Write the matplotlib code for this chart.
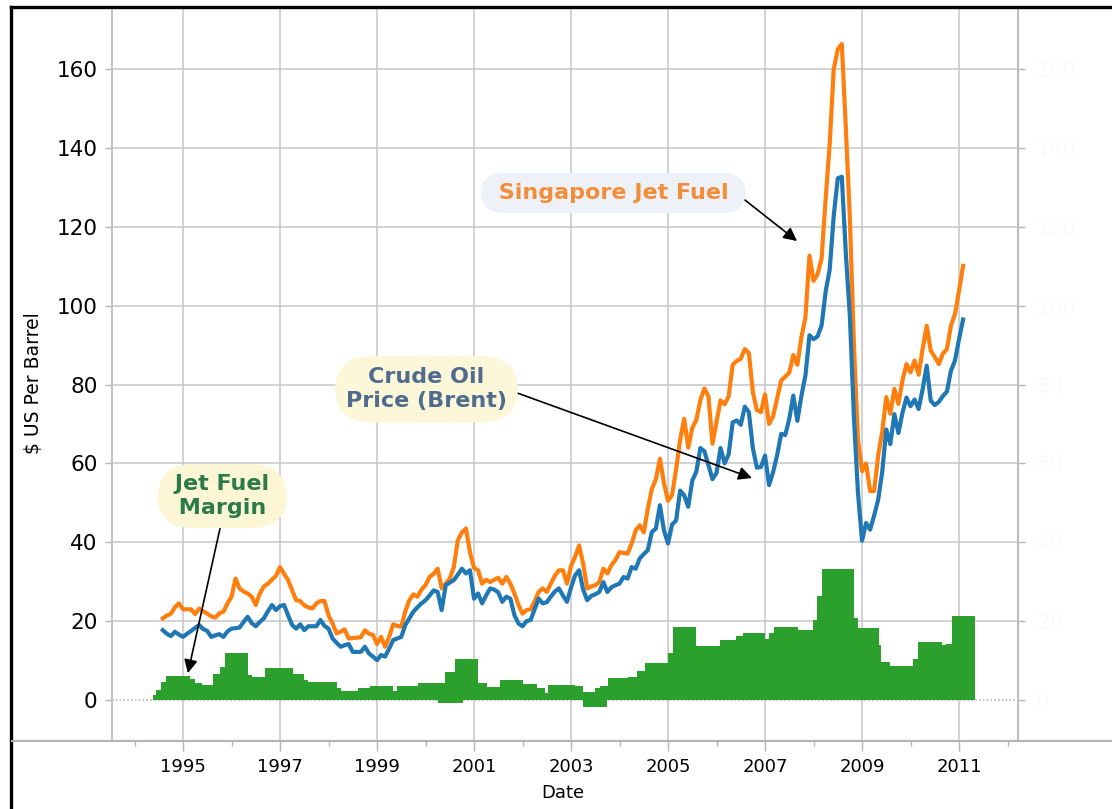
import matplotlib
matplotlib.use("Agg")
import matplotlib.pyplot as plt
from matplotlib.lines import Line2D
import numpy as np

# Monthly averages, Jul 1994 .. Jan 2011, US$ per barrel
first_month = 1994 + 7 / 12

brent = [
    17.7, 16.8, 16.2, 17.3, 16.6, 16.0,                                # 1994 (Jul-Dec)
    16.8, 17.5, 18.3, 19.0, 18.0, 17.5, 16.0, 16.4, 16.7, 16.0, 17.4, 18.1,  # 1995
    18.2, 18.4, 19.8, 21.1, 19.5, 18.7, 19.8, 20.7, 22.5, 24.1, 22.8, 23.8,  # 1996
    24.1, 21.5, 19.0, 18.1, 19.2, 17.7, 18.7, 18.7, 18.7, 20.3, 18.8, 18.1,  # 1997
    15.6, 14.5, 13.5, 13.9, 14.2, 12.2, 12.2, 12.2, 13.5, 11.8, 11.0, 10.1,  # 1998
    11.4, 11.0, 13.0, 15.2, 15.6, 16.0, 19.0, 20.7, 22.4, 23.5, 24.5, 25.3,  # 1999
    26.5, 27.8, 27.4, 22.8, 29.1, 29.8, 30.4, 31.8, 33.3, 32.1, 32.9, 25.7,  # 2000
    27.0, 24.5, 26.5, 28.3, 28.0, 27.3, 24.9, 26.2, 25.7, 21.5, 19.4, 18.7,  # 2001
    20.0, 20.3, 23.0, 25.7, 24.5, 24.8, 26.2, 27.5, 28.3, 26.5, 24.9, 28.5,  # 2002
    31.6, 32.9, 28.0, 25.3, 26.4, 26.8, 27.4, 29.9, 27.4, 28.6, 29.1, 29.5,  # 2003
    31.2, 30.8, 33.7, 33.3, 35.9, 37.0, 38.0, 42.6, 43.5, 49.4, 43.0, 39.7,  # 2004
    44.5, 45.5, 53.1, 51.9, 49.0, 55.6, 57.9, 63.9, 63.1, 59.5, 56.0, 57.6,  # 2005
    63.9, 60.0, 62.3, 70.4, 70.9, 69.8, 74.4, 73.0, 63.8, 58.9, 59.1, 62.0,  # 2006
    54.5, 57.8, 62.1, 67.5, 67.2, 71.3, 77.2, 70.8, 77.1, 82.3, 92.5, 91.5,  # 2007
    92.2, 95.0, 103.6, 109.1, 122.8, 132.3, 132.7, 113.2, 97.2, 71.6, 52.5, 40.4,  # 2008
    44.9, 43.2, 46.8, 50.8, 57.9, 68.6, 64.9, 72.5, 67.7, 72.8, 76.7, 74.5,  # 2009
    76.2, 73.8, 78.8, 84.8, 75.9, 74.8, 75.6, 77.1, 78.2, 83.5, 86.1, 91.5,  # 2010
    96.5,                                                              # 2011 (Jan)
]

jet_fuel = [
    20.7, 21.4, 21.9, 23.5, 24.5, 23.0,                                # 1994 (Jul-Dec)
    23.0, 23.0, 21.8, 23.2, 22.5, 21.9, 21.2, 20.9, 22.0, 22.4, 24.5, 26.2,  # 1995
    30.8, 28.3, 27.5, 27.0, 26.2, 24.1, 27.0, 28.8, 29.5, 30.5, 31.5, 33.7,  # 1996
    32.0, 30.4, 27.8, 25.3, 25.1, 24.0, 23.5, 23.2, 24.5, 25.1, 25.1, 21.5,  # 1997
    19.4, 16.9, 17.3, 17.9, 15.6, 15.7, 15.8, 15.9, 17.7, 16.8, 16.5, 14.2,  # 1998
    16.0, 13.5, 16.0, 19.2, 18.8, 18.6, 22.5, 25.3, 26.8, 26.2, 28.0, 29.1,  # 1999
    31.2, 32.0, 33.3, 28.3, 29.5, 30.8, 33.7, 40.5, 42.5, 43.5, 37.5, 33.5,  # 2000
    32.9, 29.5, 30.5, 29.9, 30.5, 31.0, 29.5, 31.2, 29.5, 27.0, 24.1, 21.9,  # 2001
    22.8, 23.0, 25.0, 27.4, 28.3, 27.4, 29.5, 31.5, 32.9, 32.9, 29.5, 34.0,  # 2002
    36.3, 39.2, 34.6, 28.3, 28.8, 29.1, 29.9, 33.3, 32.1, 34.2, 35.5, 37.5,  # 2003
    37.3, 37.1, 39.7, 43.0, 44.3, 42.5, 48.5, 53.5, 56.0, 61.2, 55.0, 50.5,  # 2004
    52.0, 58.5, 66.0, 71.3, 64.0, 69.0, 71.0, 76.0, 79.0, 77.0, 65.0, 70.5,  # 2005
    76.0, 75.0, 77.0, 85.0, 86.0, 86.5, 89.0, 88.0, 78.0, 73.5, 73.0, 77.5,  # 2006
    70.0, 72.0, 76.5, 81.0, 82.0, 83.0, 87.5, 85.0, 92.0, 97.0, 112.7, 106.3,  # 2007
    108.0, 112.0, 127.0, 141.0, 160.0, 165.0, 166.4, 145.0, 122.0, 90.0, 66.0, 58.0,  # 2008
    60.0, 53.0, 53.0, 62.0, 68.0, 76.8, 72.6, 78.9, 75.1, 81.0, 85.2, 83.1,  # 2009
    86.1, 82.5, 89.0, 94.9, 88.6, 87.0, 85.2, 87.8, 89.0, 94.9, 97.9, 103.8,  # 2010
    110.1,                                                             # 2011 (Jan)
]

# Jet fuel margin over crude, per period (decimal years)
margin_start = [
    1994.38, 1994.44, 1994.55, 1994.65, 1995.14, 1995.25, 1995.40, 1995.62,
    1995.76, 1995.87, 1996.34, 1996.42, 1996.69, 1997.27, 1997.50, 1997.58,
    1998.18, 1998.26, 1998.60, 1998.86, 1999.33, 1999.41, 1999.85, 2000.26,
    2000.40, 2000.61, 2001.09, 2001.26, 2001.54, 2002.02, 2002.29, 2002.46,
    2002.53, 2003.08, 2003.25, 2003.25, 2003.49, 2003.60, 2003.77, 2004.18,
    2004.36, 2004.52, 2005.00, 2005.10, 2005.58, 2006.08, 2006.40, 2006.54,
    2006.99, 2007.09, 2007.19, 2007.67, 2007.98, 2008.08, 2008.18, 2008.83,
    2008.92, 2009.34, 2009.39, 2009.58, 2010.06, 2010.16, 2010.64, 2010.74,
    2010.85,
]
margin_end = [
    1994.44, 1994.55, 1994.65, 1995.14, 1995.25, 1995.40, 1995.62, 1995.76,
    1995.87, 1996.34, 1996.42, 1996.69, 1997.27, 1997.50, 1997.58, 1998.18,
    1998.26, 1998.60, 1998.86, 1999.33, 1999.41, 1999.85, 2000.40, 2000.77,
    2000.61, 2001.09, 2001.26, 2001.54, 2002.02, 2002.29, 2002.46, 2002.53,
    2003.08, 2003.25, 2003.49, 2003.74, 2003.60, 2003.77, 2004.18, 2004.36,
    2004.52, 2005.00, 2005.10, 2005.58, 2006.08, 2006.40, 2006.54, 2006.99,
    2007.09, 2007.19, 2007.67, 2007.98, 2008.08, 2008.18, 2008.83, 2008.92,
    2009.34, 2009.39, 2009.58, 2010.06, 2010.16, 2010.64, 2010.74, 2010.85,
    2011.32,
]
margin_value = [
    1.3, 2.5, 4.6, 6.1, 5.3, 4.4, 3.8, 6.6,
    8.4, 11.8, 6.3, 5.9, 8.1, 6.6, 5.0, 4.5,
    3.0, 2.3, 3.0, 3.5, 2.2, 3.5, 4.3, -0.7,
    7.2, 10.4, 4.2, 3.4, 5.1, 4.1, 3.0, 1.7,
    3.8, 3.5, 2.1, -1.9, 3.0, 3.5, 5.6, 5.9,
    7.3, 9.3, 11.8, 18.4, 13.7, 15.2, 16.2, 17.0,
    15.4, 17.0, 18.4, 17.7, 20.3, 26.3, 33.2, 20.8,
    18.2, 14.0, 9.6, 8.7, 10.3, 14.7, 14.0, 14.2,
    21.3,
]

W, H = 1112, 809
fig = plt.figure(figsize=(W / 100, H / 100), dpi=100)
ax = fig.add_axes([112 / W, 1 - 741 / H, (1018 - 112) / W, (741 - 8) / H])

months = first_month + np.arange(len(brent)) / 12
left = np.array(margin_start)
widths = np.array(margin_end) - left

ax.bar(left, margin_value, width=widths, align="edge", color="#2ca02c",
       linewidth=0, zorder=2)
ax.plot(months, jet_fuel, color="#ff7f0e", lw=3, zorder=3,
        solid_joinstyle="round")
ax.plot(months, brent, color="#1f77b4", lw=3, zorder=4,
        solid_joinstyle="round")

ax.set_xlim(1993.536, 2012.216)
ax.set_ylim(-10.4, 175.5)
ax.set_xticks(range(1995, 2012, 2))
ax.set_xticks(range(1994, 2013, 2), minor=True)
ax.set_yticks(range(0, 161, 20))

grid_c = "#c6c6c6"
ax.grid(True, which="major", color=grid_c, lw=1.1, zorder=0)
ax.set_axisbelow(True)
zero_line = ax.get_ygridlines()[0]
zero_line.set_linestyle((0, (1, 1.5)))
zero_line.set_color("#a8a8a8")

ax.tick_params(axis="x", which="major", length=7.5, width=1, color="#b5b5b5",
               labelsize=13, pad=5)
ax.tick_params(axis="x", which="minor", length=3.5, width=1, color="#b5b5b5")
ax.tick_params(axis="y", length=5, width=1, color="#b5b5b5", labelsize=15.5,
               pad=5.5)
for side in ("top", "bottom"):
    ax.spines[side].set_visible(False)
for side in ("left", "right"):
    ax.spines[side].set_color("#bdbdbd")
    ax.spines[side].set_linewidth(1.3)

ax.set_xlabel("Date", fontsize=13)
ax.xaxis.set_label_coords(0.498, -0.058)
ax.set_ylabel("$ US Per Barrel", fontsize=13.5)
ax.yaxis.set_label_coords(-0.076, 0.488)

# faint secondary scale on the right
ax2 = ax.twinx()
ax2.set_ylim(ax.get_ylim())
ax2.set_yticks(range(0, 161, 20))
ax2.tick_params(axis="y", length=5, width=1, color="#b5b5b5", labelsize=15.5,
                labelcolor="#fafafa", pad=8)
for side in ("top", "bottom", "left"):
    ax2.spines[side].set_visible(False)
ax2.spines["right"].set_color("#bdbdbd")
ax2.spines["right"].set_linewidth(1.3)

arrow = dict(arrowstyle="-|>", color="black", lw=1.2, mutation_scale=20,
             shrinkA=0, shrinkB=0)

ax.annotate(" Singapore Jet Fuel ", xy=(2007.66, 116.4), xytext=(2003.87, 128.6),
            ha="center", va="center", fontsize=16, fontweight="bold",
            color="#f28e3a", zorder=6,
            bbox=dict(boxstyle="round,pad=0.45,rounding_size=1.0",
                      fc="#eef1f8", ec="none"),
            arrowprops=dict(arrow, relpos=(1, 0.5)))

ax.annotate("Crude Oil\nPrice (Brent)", xy=(2006.73, 56.3), xytext=(2000.02, 78.8),
            ha="center", va="center", fontsize=16, fontweight="bold",
            color="#4f6b8e", linespacing=1.25, zorder=6,
            bbox=dict(boxstyle="round,pad=0.5,rounding_size=1.6",
                      fc="#fdf7da", ec="none"),
            arrowprops=dict(arrow, relpos=(1, 0.5)))

ax.annotate(" Jet Fuel \n Margin ", xy=(1995.10, 6.8), xytext=(1995.81, 51.7),
            ha="center", va="center", fontsize=16, fontweight="bold",
            color="#2b7a49", linespacing=1.25, zorder=6,
            bbox=dict(boxstyle="round,pad=0.45,rounding_size=1.6",
                      fc="#fdf6d5", ec="none"),
            arrowprops=dict(arrow, relpos=(0.5, 0)))

# outer frame: black border top/left, grey base line across the width
fig.add_artist(Line2D([11 / W, 1], [1 - 6.5 / H] * 2, color="black", lw=2.4))
fig.add_artist(Line2D([11 / W] * 2, [0, 1 - 6.5 / H], color="black", lw=2.4))
fig.add_artist(Line2D([12 / W, 1], [1 - 741 / H] * 2, color="#b3b3b3", lw=1.5))

fig.savefig("out.png", dpi=100)
